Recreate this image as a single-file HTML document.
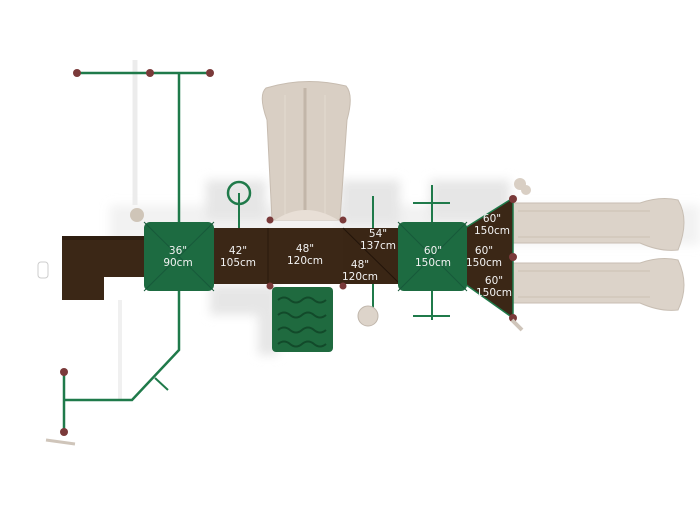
<!DOCTYPE html>
<html><head><meta charset="utf-8"><style>
html,body{margin:0;padding:0;background:#fff;width:700px;height:525px;overflow:hidden}
svg{display:block}
text{font-family:"DejaVu Sans","Liberation Sans",sans-serif;font-size:10.5px;fill:#f2f2f2;text-anchor:middle}
</style></head><body>
<svg width="700" height="525" viewBox="0 0 700 525" xmlns="http://www.w3.org/2000/svg">
<defs><filter id="b" x="-20%" y="-20%" width="140%" height="140%"><feGaussianBlur stdDeviation="5"/></filter></defs>
<!-- shadows -->
<g fill="#e6e6e6" filter="url(#b)">
<rect x="110" y="205" width="590" height="40" opacity="0.5"/>
<rect x="206" y="180" width="60" height="40"/>
<rect x="340" y="180" width="60" height="45"/>
<rect x="430" y="180" width="80" height="40"/>
<rect x="258" y="285" width="20" height="70"/>
<rect x="210" y="285" width="60" height="30"/>
</g>
<line x1="135" y1="60" x2="135" y2="205" stroke="#ececec" stroke-width="5"/>
<line x1="120" y1="300" x2="120" y2="400" stroke="#f0f0f0" stroke-width="4"/>
<!-- tall slide -->
<path d="M266 88 Q305 76 346 86 Q354 95 347 120 L340 220 L272 220 L267 120 Q258 95 266 88Z" fill="#d9cfc4" stroke="#c7bcb0"/>
<line x1="305" y1="88" x2="305" y2="212" stroke="#c2b6a9" stroke-width="3"/>
<line x1="285" y1="95" x2="285" y2="215" stroke="#e4dbd1" stroke-width="1"/>
<line x1="325" y1="95" x2="325" y2="215" stroke="#e4dbd1" stroke-width="1"/>
<path d="M275 220 Q305 200 338 220Z" fill="#e8dfd6"/>
<!-- slides right -->
<path d="M513 203 L640 203 Q660 196 678 200 Q690 220 678 250 Q660 252 640 243 L513 243Z" fill="#dcd3c9" stroke="#c8beb3"/>
<line x1="518" y1="211" x2="650" y2="211" stroke="#cbc0b4"/>
<line x1="518" y1="237" x2="650" y2="237" stroke="#cbc0b4"/>
<path d="M513 263 L640 263 Q660 256 678 260 Q690 285 678 310 Q660 312 640 303 L513 303Z" fill="#dcd3c9" stroke="#c8beb3"/>
<line x1="518" y1="271" x2="650" y2="271" stroke="#cbc0b4"/>
<line x1="518" y1="297" x2="650" y2="297" stroke="#cbc0b4"/>
<!-- green poles -->
<g stroke="#1f7a4a" stroke-width="2.5" fill="none">
<line x1="77" y1="73" x2="210" y2="73"/>
<line x1="179" y1="73" x2="179" y2="222"/>
<circle cx="239" cy="193" r="11" stroke-width="2.5"/>
<line x1="239" y1="193" x2="239" y2="228" stroke-width="2"/>
<line x1="373" y1="196" x2="373" y2="228" stroke-width="2"/>
<line x1="373" y1="284" x2="373" y2="318" stroke-width="2"/>
<line x1="432" y1="185" x2="432" y2="222" stroke-width="2"/>
<line x1="413" y1="203" x2="450" y2="203" stroke-width="2"/>
<line x1="432" y1="291" x2="432" y2="320" stroke-width="2"/>
<line x1="413" y1="316" x2="450" y2="316" stroke-width="2"/>
<polyline points="179,291 179,350 132,400 64,400"/>
<line x1="64" y1="372" x2="64" y2="432"/>
<line x1="155" y1="378" x2="168" y2="390" stroke-width="2"/>
</g>
<g fill="#7a3a3a"><circle cx="77" cy="73" r="4"/><circle cx="150" cy="73" r="4"/><circle cx="210" cy="73" r="4"/>
<circle cx="64" cy="372" r="4"/><circle cx="64" cy="432" r="4"/></g>
<line x1="46" y1="440" x2="75" y2="444" stroke="#cfc5ba" stroke-width="3"/>
<circle cx="137" cy="215" r="7" fill="#cfc5b8"/>
<circle cx="368" cy="316" r="10" fill="#ddd4ca" stroke="#c0b6ab"/>
<circle cx="520" cy="184" r="6" fill="#d9cfc4"/>
<circle cx="526" cy="190" r="5" fill="#d9cfc4"/>
<rect x="38" y="262" width="10" height="16" rx="3" fill="#fff" stroke="#ccc"/>
<!-- decks -->
<rect x="62" y="236" width="42" height="64" fill="#3b2716"/>
<rect x="104" y="236" width="42" height="41" fill="#3b2716"/>
<rect x="62" y="236" width="84" height="4" fill="#2e1e10"/>
<rect x="214" y="228" width="130" height="56" fill="#3b2716"/>
<line x1="268" y1="228" x2="268" y2="284" stroke="#2a1a0c"/>
<rect x="343" y="228" width="57" height="56" fill="#3a2615"/>
<line x1="343" y1="228" x2="400" y2="284" stroke="#22140a"/>
<path d="M465 228 L513 198 L513 318 L465 284Z" fill="#3b2716" stroke="#1f7a4a" stroke-width="1.5"/>
<g fill="#7a3a3a"><circle cx="270" cy="220" r="3.5"/><circle cx="343" cy="220" r="3.5"/><circle cx="270" cy="286" r="3.5"/><circle cx="343" cy="286" r="3.5"/>
<circle cx="513" cy="199" r="4"/><circle cx="513" cy="257" r="4"/><circle cx="513" cy="318" r="4"/></g>
<line x1="512" y1="320" x2="522" y2="330" stroke="#cfc5ba" stroke-width="4"/>
<!-- rock wall -->
<rect x="272" y="287" width="61" height="65" rx="4" fill="#1f6a3f"/>
<g stroke="#124a2a" stroke-width="2" fill="none">
<path d="M278 300 q6 -5 12 0 q6 5 12 0 q6 -5 12 0 q6 5 12 0"/>
<path d="M278 315 q6 -5 12 0 q6 5 12 0 q6 -5 12 0 q6 5 12 0"/>
<path d="M278 330 q6 -5 12 0 q6 5 12 0 q6 -5 12 0 q6 5 12 0"/>
<path d="M278 344 q6 -5 12 0 q6 5 12 0 q6 -5 12 0 q6 5 12 0"/>
</g>
<!-- roofs -->
<rect x="144" y="222" width="70" height="69" rx="6" fill="#1d6b41"/>
<path d="M144 222 L214 291 M214 222 L144 291" stroke="#17593a" stroke-width="1"/>
<rect x="398" y="222" width="69" height="69" rx="6" fill="#1d6b41"/>
<path d="M398 222 L467 291 M467 222 L398 291" stroke="#17593a" stroke-width="1"/>
<!-- labels -->
<text x="178" y="254">36"</text><text x="178" y="266">90cm</text>
<text x="238" y="254">42"</text><text x="238" y="266">105cm</text>
<text x="305" y="252">48"</text><text x="305" y="264">120cm</text>
<text x="378" y="237">54"</text><text x="378" y="249">137cm</text>
<text x="360" y="268">48"</text><text x="360" y="280">120cm</text>
<text x="433" y="254">60"</text><text x="433" y="266">150cm</text>
<text x="492" y="222">60"</text><text x="492" y="234">150cm</text>
<text x="484" y="254">60"</text><text x="484" y="266">150cm</text>
<text x="494" y="284">60"</text><text x="494" y="296">150cm</text>
</svg>
</body></html>
